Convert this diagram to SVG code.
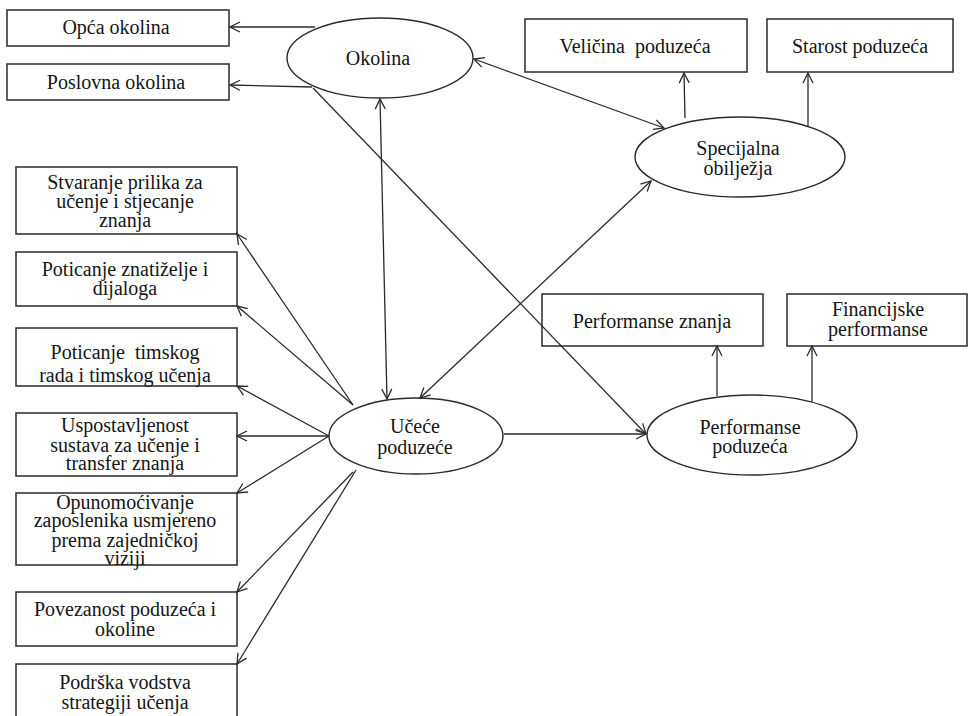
<svg xmlns="http://www.w3.org/2000/svg" width="972" height="716" viewBox="0 0 972 716">
<defs>
<style>
.box{fill:#fff;stroke:#2a2a2a;stroke-width:1.5}
.ell{fill:#fff;stroke:#2a2a2a;stroke-width:1.4}
.t{font-family:"Liberation Serif","Times New Roman",serif;font-size:20px;fill:#151515;text-anchor:middle}
.c{fill:none;stroke:#2a2a2a;stroke-width:1.3}
.e{marker-end:url(#ah)}
.b{marker-start:url(#ah);marker-end:url(#ah)}
</style>
<marker id="ah" viewBox="0 0 12 12" refX="11" refY="6" markerWidth="12" markerHeight="12" markerUnits="userSpaceOnUse" orient="auto-start-reverse">
<path d="M1,1 L11,6 L1,11" fill="none" stroke="#2a2a2a" stroke-width="1.3"/>
</marker>
</defs>
<rect width="972" height="716" fill="#fff"/>

<g id="opca-okolina"><rect class="box" x="7" y="10" width="222" height="36"/><text class="t" x="116" y="34">Opća okolina</text></g>
<g id="poslovna-okolina"><rect class="box" x="7" y="64" width="222" height="36"/><text class="t" x="116" y="89">Poslovna okolina</text></g>
<g id="okolina"><ellipse class="ell" cx="380" cy="58" rx="93" ry="40"/><text class="t" x="378" y="65">Okolina</text></g>
<g id="velicina"><rect class="box" x="525" y="19" width="222" height="53"/><text class="t" x="635" y="53" xml:space="preserve">Veličina  poduzeća</text></g>
<g id="starost"><rect class="box" x="767" y="19" width="186" height="53"/><text class="t" x="860" y="53">Starost poduzeća</text></g>
<g id="specijalna"><ellipse class="ell" cx="740" cy="157" rx="105" ry="40"/><text class="t" x="738" y="155">Specijalna</text><text class="t" x="738" y="175">obilježja</text></g>

<g id="stvaranje"><rect class="box" x="16" y="167" width="221" height="67"/><text class="t" x="125" y="189">Stvaranje prilika za</text><text class="t" x="125" y="208">učenje i stjecanje</text><text class="t" x="125" y="227">znanja</text></g>
<g id="znatizelja"><rect class="box" x="16" y="252" width="221" height="54"/><text class="t" x="125" y="276">Poticanje znatiželje i</text><text class="t" x="125" y="295">dijaloga</text></g>
<g id="timski"><rect class="box" x="16" y="328" width="221" height="58"/><text class="t" x="125" y="359" xml:space="preserve">Poticanje  timskog</text><text class="t" x="125" y="382">rada i timskog učenja</text></g>
<g id="uspostavljenost"><rect class="box" x="16" y="413" width="221" height="63"/><text class="t" x="125" y="432">Uspostavljenost</text><text class="t" x="125" y="452">sustava za učenje i</text><text class="t" x="125" y="470">transfer znanja</text></g>
<g id="opunomocivanje"><rect class="box" x="16" y="493" width="221" height="72"/><text class="t" x="125" y="509">Opunomoćivanje</text><text class="t" x="125" y="527">zaposlenika usmjereno</text><text class="t" x="125" y="547">prema zajedničkoj</text><text class="t" x="125" y="565">viziji</text></g>
<g id="povezanost"><rect class="box" x="16" y="592" width="221" height="54"/><text class="t" x="125" y="616">Povezanost poduzeća i</text><text class="t" x="125" y="636">okoline</text></g>
<g id="podrska"><rect class="box" x="16" y="664" width="221" height="64"/><text class="t" x="125" y="689">Podrška vodstva</text><text class="t" x="125" y="709">strategiji učenja</text></g>

<g id="ucece"><ellipse class="ell" cx="416" cy="436" rx="87" ry="38"/><text class="t" x="415" y="433">Učeće</text><text class="t" x="415" y="454">poduzeće</text></g>
<g id="performanse-znanja"><rect class="box" x="542" y="294" width="221" height="52"/><text class="t" x="652" y="328">Performanse znanja</text></g>
<g id="financijske"><rect class="box" x="787" y="294" width="180" height="52"/><text class="t" x="878" y="316">Financijske</text><text class="t" x="878" y="336">performanse</text></g>
<g id="performanse-poduzeca"><ellipse class="ell" cx="752" cy="435" rx="105" ry="40"/><text class="t" x="750" y="434">Performanse</text><text class="t" x="750" y="453">poduzeća</text></g>

<g id="connectors">
<path class="c e" d="M315,27 L230,27"/>
<path class="c e" d="M312,87 L230,85"/>
<path class="c b" d="M474,59 L664,128"/>
<path class="c e" d="M685,118 L684,73"/>
<path class="c e" d="M808,126 L808,73"/>
<path class="c b" d="M380,99 L387,399"/>
<path class="c e" d="M313,88 L646,434"/>
<path class="c b" d="M420,398 L651,181"/>
<path class="c e" d="M504,434 L646,434"/>
<path class="c e" d="M717,396 L717,346"/>
<path class="c e" d="M812,402 L812,346"/>
<path class="c e" d="M353,405 L237,234"/>
<path class="c e" d="M353,405 L237,306"/>
<path class="c e" d="M329,436 L237,386"/>
<path class="c e" d="M329,436 L237,436"/>
<path class="c e" d="M329,436 L237,493"/>
<path class="c e" d="M353,472 L237,592"/>
<path class="c e" d="M356,470 L237,664"/>
</g>
</svg>
